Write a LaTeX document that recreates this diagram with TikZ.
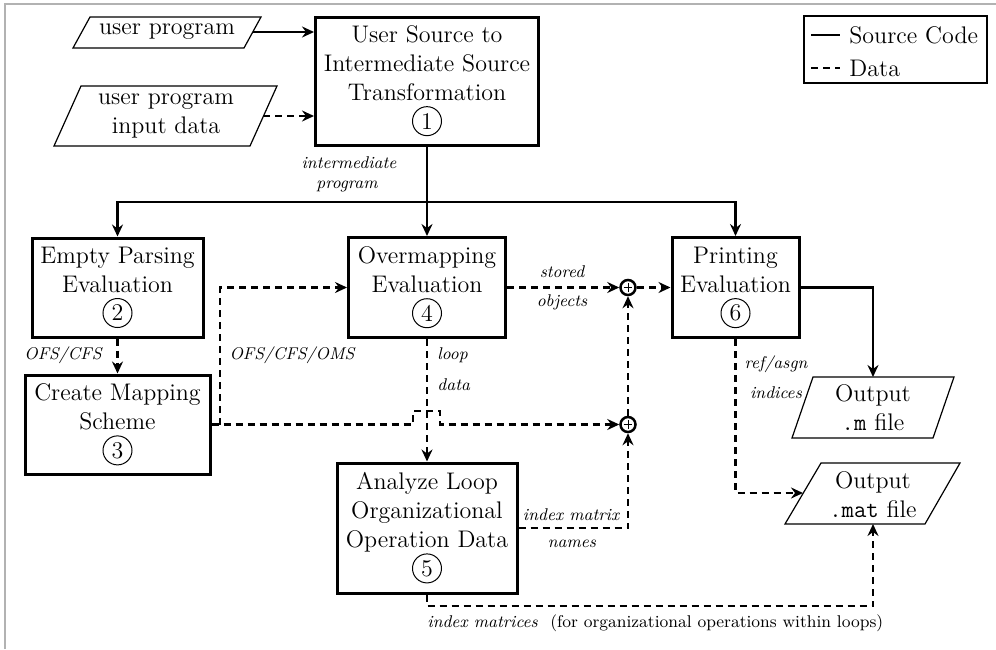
\documentclass[tikz,border=0pt]{standalone}
\usetikzlibrary{arrows.meta,calc}
\newcommand\mainf{\fontsize{12}{14.4}\selectfont}
\newcommand\labf{\fontsize{8.5}{10}\selectfont\itshape}
\newcommand\numc[1]{\tikz[baseline=(nc.base)]\node[draw,solid,circle,line width=0.5pt,inner sep=0pt,minimum size=14.5pt,font=\mainf](nc){#1};}
\begin{document}
\begin{tikzpicture}[x=0.5pt,y=-0.5pt,
 box/.style={draw,line width=1.5pt,align=center,font=\mainf,inner sep=0pt},
 para/.style={draw,line width=0.6pt},
 ptext/.style={align=center,font=\mainf,inner sep=0pt},
 lab/.style={font=\labf,inner sep=0pt},
 src/.style={line width=1.25pt},
 dat/.style={line width=1.25pt,dash pattern=on 3.5pt off 2.5pt},
 tip/.style={-{Stealth[length=6pt,width=5.5pt,inset=2pt]}},
 junc/.style={circle,draw,solid,line width=1.25pt,minimum size=7.5pt,inner sep=0pt,
   path picture={\draw[line width=0.35pt] (path picture bounding box.center) ++(-2.2pt,0) -- ++(4.4pt,0)
     (path picture bounding box.center) ++(0,-2.2pt) -- ++(0,4.4pt);}}
]
\useasboundingbox (0,0) rectangle (996,649);
\draw[gray!60,line width=0.8pt] (5,649) -- (5,4) -- (996,4);

% boxes
\node[box,minimum width=111.5pt,minimum height=64pt] (b1) at (427,81) {User Source to\\Intermediate Source\\Transformation\\\numc{1}};
\node[box,minimum width=85.5pt,minimum height=49.5pt] (b2) at (117.5,287.5) {Empty Parsing\\Evaluation\\\numc{2}};
\node[box,minimum width=92.5pt,minimum height=49.5pt] (b3) at (117.5,424.5) {Create Mapping\\Scheme\\\numc{3}};
\node[box,minimum width=78.5pt,minimum height=50pt] (b4) at (427,287.5) {Overmapping\\Evaluation\\\numc{4}};
\node[box,minimum width=90pt,minimum height=65pt] (b5) at (427,528) {Analyze Loop\\Organizational\\Operation Data\\\numc{5}};
\node[box,minimum width=63.5pt,minimum height=50pt] (b6) at (735.5,287.5) {Printing\\Evaluation\\\numc{6}};

% legend
\node[draw,line width=0.6pt,minimum width=91.5pt,minimum height=33.5pt,inner sep=0pt] (leg) at (895.5,49.5) {};
\node[anchor=west,font=\mainf,inner sep=0pt] (lsrc) at (849,35) {Source Code};
\node[anchor=west,font=\mainf,inner sep=0pt] (ldat) at (849,68) {Data};
\coordinate (ls1) at (811,35); \coordinate (ls2) at (840,35);
\coordinate (ld1) at (811,68); \coordinate (ld2) at (840,68);
\draw[src] (ls1) -- (ls2);
\draw[dat] (ld1) -- (ld2);

% parallelograms
\draw[para] (73,48) -- (90,17) -- (261,17) -- (244,48) -- cycle;
\node[ptext] (up) at (167,32) {user program};
\coordinate (upE) at (253,32);
\draw[para] (54,146) -- (81,86) -- (277,86) -- (250,146) -- cycle;
\node[ptext] (ud) at (166,116) {user program\\input data};
\coordinate (udE) at (263,116);
\draw[para] (792,438) -- (813,377) -- (954,377) -- (933,438) -- cycle;
\node[ptext] (mf) at (873,408) {Output\\\texttt{.m} file};
\coordinate (mN) at (873,377);
\draw[para] (785,524) -- (821,463) -- (960,463) -- (925,524) -- cycle;
\node[ptext] (matf) at (873,495) {Output\\\texttt{.mat} file};
\coordinate (matW) at (803,493);
\coordinate (matS) at (873,524);

% junctions
\node[junc] (p1) at (628,287.5) {};
\node[junc] (p2) at (628,424.5) {};

% connectors
\draw[src,tip] (upE) -- (upE -| b1.west);
\draw[dat,tip] (udE) -- (udE -| b1.west);
\coordinate (j) at (427,202);
\draw[src,tip] (b1.south) -- (b4.north);
\draw[src,tip] (j) -| (b2.north);
\draw[src,tip] (j) -| (b6.north);
\draw[dat,tip] (b2.south) -- (b3.north);
\coordinate (br1) at (413,424.5); \coordinate (br2) at (413,411);
\coordinate (br3) at (440,411); \coordinate (br4) at (440,424.5);
\draw[dat,tip] (b3.east) -- (br1) -- (br2) -- (br3) -- (br4) -- (p2.west);
\coordinate (k) at (220,424.5);
\draw[dat,tip] (k) |- (b4.west);
\draw[dat,tip] (b4.south) -- (b5.north);
\draw[dat,tip] (b4.east) -- (p1.west);
\draw[dat,tip] (p1.east) -- (b6.west);
\draw[dat,tip] (p2.north) -- (p1.south);
\draw[dat,tip] (b5.east) -| (p2.south);
\draw[src,tip] (b6.east) -| (mN);
\draw[dat,tip] (b6.south) |- (matW);
\coordinate (q) at (427,606);
\draw[dat,tip] (b5.south) -- (q) -| (matS);

% labels
\node[lab] (l1) at (349,163) {intermediate};
\node[lab] (l2) at (347,186) {program};
\node[lab] (l3) at (63,355) {OFS/CFS};
\node[lab] (l4) at (292,355) {OFS/CFS/OMS};
\node[lab,anchor=west] (l5) at (437,355) {loop};
\node[lab,anchor=west] (l6) at (437,385) {data};
\node[lab] (l7) at (562,272) {stored};
\node[lab] (l8) at (562,302) {objects};
\node[lab] (l9) at (776,364) {ref/asgn};
\node[lab] (l10) at (776,393) {indices};
\node[lab] (l11) at (571,515) {index matrix};
\node[lab] (l12) at (572,544) {names};
\node[lab,anchor=west] (l13) at (427,623) {index matrices\ \ \upshape(for organizational operations within loops)};
\end{tikzpicture}
\end{document}
